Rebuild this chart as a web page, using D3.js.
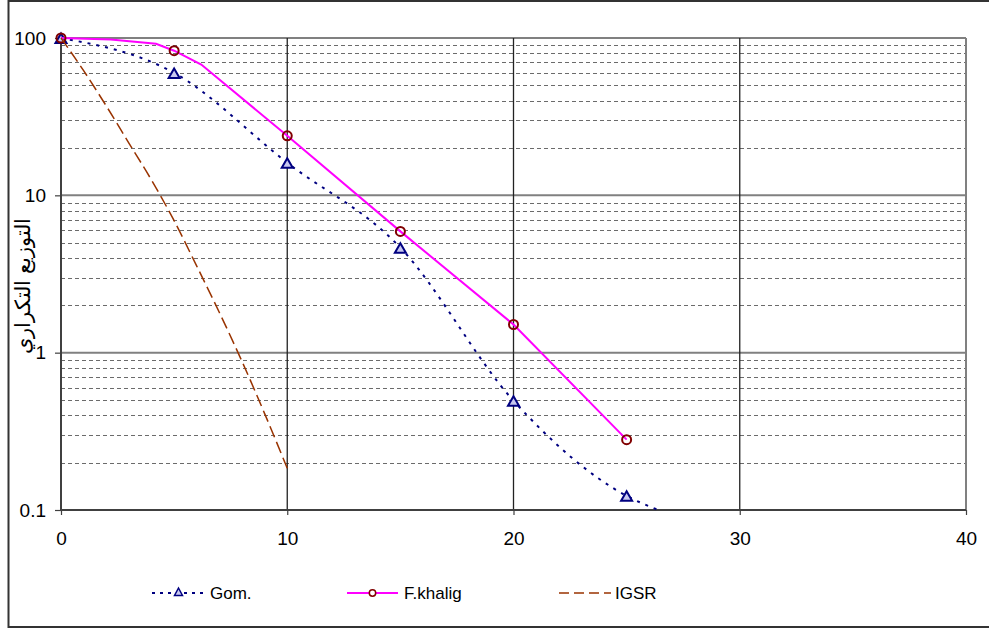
<!DOCTYPE html>
<html>
<head>
<meta charset="utf-8">
<script src="https://cdn.jsdelivr.net/npm/d3@7/dist/d3.min.js"></script>
<style>
  html, body { margin: 0; padding: 0; background: #fff; }
  svg { display: block; }
  text { font-family: "Liberation Sans", Arial, sans-serif; }
</style>
</head>
<body>
<svg id="chart" width="989" height="629"></svg>
<script>
// Frequency distribution curves (log scale)
const xTicks = [0, 10, 20, 30, 40];
const yTicks = [0.1, 1, 10, 100];
const yTickLabels = ["0.1", "1", "10", "100"];

const gomX = [0, 5, 10, 15, 20, 25, 26.4];
const gomY = [100, 60, 16.1, 4.65, 0.495, 0.123, 0.1];

const khaligX = [0, 2.2, 4.2, 5, 6.2, 10, 15, 20, 25];
const khaligY = [100, 97.7, 92, 83, 67.8, 23.9, 5.9, 1.51, 0.28];

const igsrX = [0, 1, 2, 3, 4, 5, 6, 7, 8, 9, 10];
const igsrY = [100, 62, 37, 21.5, 12.5, 6.9, 3.55, 1.8, 0.88, 0.41, 0.184];

const seriesNames = ["Gom.", "F.khalig", "IGSR"];
const yTitle = "التوزيع التكراري";

const svg = d3.select("#chart");
const W = 989, H = 629;
const plot = { left: 61, right: 966, top: 38, bottom: 510 };

// outer chart frame
svg.append("rect")
  .attr("x", 8.5).attr("y", 1).attr("width", W + 10).attr("height", 626)
  .attr("fill", "#fff").attr("stroke", "#333").attr("stroke-width", 2);

const x = d3.scaleLinear().domain([0, 40]).range([plot.left, plot.right]);
const y = d3.scaleLog().domain([0.1, 100]).range([plot.bottom, plot.top]);

// minor horizontal grid (2..9 within each decade)
const minor = [];
for (let d = 0.1; d < 100; d *= 10) {
  for (let k = 2; k <= 9; k++) minor.push(+(d * k).toPrecision(3));
}
svg.append("g").selectAll("line").data(minor).join("line")
  .attr("x1", plot.left).attr("x2", plot.right)
  .attr("y1", d => Math.round(y(d)) + 0.5).attr("y2", d => Math.round(y(d)) + 0.5)
  .attr("stroke", "#6b6b6b").attr("stroke-width", 1).attr("stroke-dasharray", "4,3");

// major horizontal grid
svg.append("g").selectAll("line").data([1, 10, 100]).join("line")
  .attr("x1", plot.left).attr("x2", plot.right)
  .attr("y1", d => y(d)).attr("y2", d => y(d))
  .attr("stroke", "#808080").attr("stroke-width", 2);

// vertical grid
svg.append("g").selectAll("line").data([10, 20, 30]).join("line")
  .attr("x1", d => x(d)).attr("x2", d => x(d))
  .attr("y1", plot.top).attr("y2", plot.bottom)
  .attr("stroke", "#222").attr("stroke-width", 1.3);

// right border of plot
svg.append("line")
  .attr("x1", plot.right).attr("x2", plot.right)
  .attr("y1", plot.top).attr("y2", plot.bottom)
  .attr("stroke", "#808080").attr("stroke-width", 2);

// axes
const xAxis = d3.axisBottom(x).tickValues(xTicks).tickSize(5).tickPadding(17).tickFormat(d3.format("d"));
const gx = svg.append("g").attr("transform", `translate(0,${plot.bottom})`).call(xAxis);
const yAxis = d3.axisLeft(y).tickValues(yTicks).tickSize(6).tickPadding(9)
  .tickFormat((d, i) => yTickLabels[i]);
const gy = svg.append("g").attr("transform", `translate(${plot.left},0)`).call(yAxis);
[gx, gy].forEach(g => {
  g.select(".domain").attr("stroke", "#404040").attr("stroke-width", 2);
  g.selectAll(".tick line").attr("stroke", "#404040").attr("stroke-width", 1.2);
  g.selectAll("text").attr("font-size", 19).attr("fill", "#000")
    .attr("font-family", "'Liberation Sans', Arial, sans-serif");
});
gx.select(".domain").attr("d", `M${plot.left},0H${plot.right}`);
gy.select(".domain").attr("d", `M0,${plot.bottom}V${plot.top}`);

// y axis title
svg.append("text")
  .attr("transform", "translate(30,286) rotate(-90)")
  .attr("text-anchor", "middle")
  .attr("font-family", "'DejaVu Sans', sans-serif")
  .attr("font-size", 21)
  .attr("direction", "rtl")
  .text(yTitle);

const zip = (xs, ys) => xs.map((v, i) => [v, ys[i]]);
const line = d3.line().x(d => x(d[0])).y(d => y(d[1]));

const gom = zip(gomX, gomY);
const khalig = zip(khaligX, khaligY);
const igsr = zip(igsrX, igsrY);

const triPath = "M0,-5.5L5.5,4L-5.5,4Z";

// Gom. series
svg.append("path").datum(gom)
  .attr("d", line.curve(d3.curveMonotoneX))
  .attr("fill", "none").attr("stroke", "#000080").attr("stroke-width", 2)
  .attr("stroke-dasharray", "3,6");
svg.append("g").selectAll("path").data(gom.filter(d => d[0] % 5 === 0)).join("path")
  .attr("d", triPath)
  .attr("transform", d => `translate(${x(d[0])},${y(d[1]) + 1})`)
  .attr("fill", "#c8c8f0").attr("stroke", "#000080").attr("stroke-width", 2);

// F.khalig series
svg.append("path").datum(khalig)
  .attr("d", line.curve(d3.curveLinear))
  .attr("fill", "none").attr("stroke", "#ff00ff").attr("stroke-width", 2);
svg.append("g").selectAll("circle").data(khalig.filter(d => d[0] % 5 === 0)).join("circle")
  .attr("cx", d => x(d[0])).attr("cy", d => y(d[1])).attr("r", 4.5)
  .attr("fill", "none").attr("stroke", "#800000").attr("stroke-width", 2);

// IGSR series
svg.append("path").datum(igsr)
  .attr("d", line.curve(d3.curveMonotoneX))
  .attr("fill", "none").attr("stroke", "#993300").attr("stroke-width", 1.5)
  .attr("stroke-dasharray", "12,5");

// legend
const legendY = 593;
const leg = svg.append("g");
const items = [
  { x0: 152, x1: 205, tx: 210 },
  { x0: 347, x1: 398, tx: 404 },
  { x0: 559, x1: 611, tx: 615 }
];
// Gom.
leg.append("line").attr("x1", items[0].x0).attr("x2", items[0].x1)
  .attr("y1", legendY).attr("y2", legendY)
  .attr("stroke", "#000080").attr("stroke-width", 2).attr("stroke-dasharray", "3,5");
leg.append("path").attr("d", "M0,-4L4,3.5L-4,3.5Z")
  .attr("transform", `translate(${(items[0].x0 + items[0].x1) / 2},${legendY - 1})`)
  .attr("fill", "#c8c8f0").attr("stroke", "#000080").attr("stroke-width", 1.5);
// F.khalig
leg.append("line").attr("x1", items[1].x0).attr("x2", items[1].x1)
  .attr("y1", legendY).attr("y2", legendY)
  .attr("stroke", "#ff00ff").attr("stroke-width", 2);
leg.append("circle").attr("cx", (items[1].x0 + items[1].x1) / 2).attr("cy", legendY).attr("r", 3.2)
  .attr("fill", "#fff").attr("stroke", "#800000").attr("stroke-width", 1.5);
// IGSR
leg.append("line").attr("x1", items[2].x0).attr("x2", items[2].x1)
  .attr("y1", legendY).attr("y2", legendY)
  .attr("stroke", "#993300").attr("stroke-width", 1.5).attr("stroke-dasharray", "10,5");

leg.selectAll("text").data(seriesNames).join("text")
  .attr("x", (d, i) => items[i].tx).attr("y", legendY + 6)
  .attr("font-size", 17).attr("fill", "#000")
  .text(d => d);
</script>
</body>
</html>
